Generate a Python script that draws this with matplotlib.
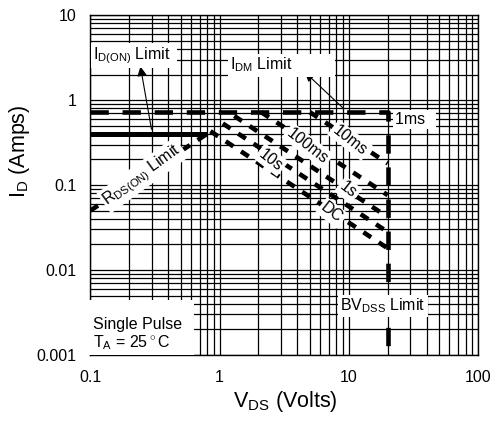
import matplotlib
matplotlib.use("Agg")
import matplotlib.pyplot as plt

plt.rcParams['font.family'] = ['Liberation Sans', 'DejaVu Sans']
plt.rcParams['mathtext.fontset'] = 'custom'
plt.rcParams['mathtext.rm'] = 'Liberation Sans'

# safe operating area data (Volts, Amps)
vds_1ms = [0.1, 20, 20]
id_1ms = [0.72, 0.72, 0.001]
vds_idon = [0.1, 0.8]
id_idon = [0.4, 0.4]
vds_rds = [0.1, 0.8]
id_rds = [0.05, 0.4]
vds_10ms = [5.0, 20]
id_10ms = [0.72, 0.18]
vds_100ms = [2.1, 20]
id_100ms = [0.72, 0.076]
vds_1s = [1.3, 20]
id_1s = [0.65, 0.042]
vds_10s = [1.06, 20]
id_10s = [0.53, 0.028]
vds_dc = [0.85, 20]
id_dc = [0.43, 0.018]

xticks = [0.1, 1, 10, 100]
xticklabels = ['0.1', '1', '10', '100']
yticks = [0.001, 0.01, 0.1, 1, 10]
yticklabels = ['0.001', '0.01', '0.1', '1', '10']

fig = plt.figure(figsize=(4.99, 4.21), dpi=100)
ax = fig.add_axes([0.181, 0.157, 0.777, 0.807])
ax.set_xscale('log')
ax.set_yscale('log')
ax.set_xlim(0.1, 100)
ax.set_ylim(0.001, 10)

ax.grid(True, which='both', color='black', linewidth=0.9)
ax.set_axisbelow(True)

# the thick dashed/solid limit lines
ax.plot(vds_1ms, id_1ms, color='black', lw=3.3, dashes=(4, 3), zorder=3)
ax.plot(vds_idon, id_idon, color='black', lw=3.6, solid_capstyle='butt', zorder=3)
ax.plot(vds_rds, id_rds, color='black', lw=3.3, dashes=(2, 2), zorder=3)
for v, i in [(vds_10ms, id_10ms), (vds_100ms, id_100ms), (vds_1s, id_1s),
             (vds_10s, id_10s), (vds_dc, id_dc)]:
    ax.plot(v, i, color='black', lw=3.3, dashes=(2, 2), zorder=3)

ax.set_xticks(xticks)
ax.set_xticklabels(xticklabels)
ax.set_yticks(yticks)
ax.set_yticklabels(yticklabels)
ax.tick_params(which='both', length=0, labelsize=11.5)
ax.tick_params(axis='x', pad=11)
ax.tick_params(axis='y', pad=10)
for s in ax.spines.values():
    s.set_linewidth(1.0)

ax.set_xlabel(r'V$_\mathregular{DS}$ (Volts)', fontsize=15.5)
ax.set_ylabel(r'I$_\mathregular{D}$ (Amps)', fontsize=15.5)
ax.xaxis.set_label_coords(0.502, -0.1)
ax.yaxis.set_label_coords(-0.15, 0.6)

wbox = dict(facecolor='white', edgecolor='none', pad=1.5)
tfs = 11.5

ax.text(0.006, 0.882, r'I$_\mathregular{D(ON)}$ Limit  ', transform=ax.transAxes,
        fontsize=tfs, ha='left', va='center', bbox=wbox, zorder=5)
ax.annotate('', xy=(0.128, 0.857), xytext=(0.159, 0.656), xycoords='axes fraction',
            arrowprops=dict(arrowstyle='-|>', color='black', lw=0.8, mutation_scale=14), zorder=4)

ax.text(0.36, 0.853, r'I$_\mathregular{DM}$ Limit          ', transform=ax.transAxes,
        fontsize=tfs, ha='left', va='center', bbox=wbox, zorder=5)
ax.annotate('', xy=(0.548, 0.838), xytext=(0.657, 0.721), xycoords='axes fraction',
            arrowprops=dict(arrowstyle='-|>', color='black', lw=0.8, mutation_scale=14), zorder=4)

ax.text(0.786, 0.694, '1ms  ', transform=ax.transAxes, fontsize=tfs,
        ha='left', va='center', bbox=wbox, zorder=5)

rot_labels = [('10ms', 0.670, 0.632), ('100ms', 0.561, 0.615), ('1s', 0.665, 0.485),
              ('10s', 0.466, 0.574), ('DC', 0.623, 0.418)]
for txt, fx, fy in rot_labels:
    ax.text(fx, fy, txt, transform=ax.transAxes, fontsize=tfs, rotation=-38,
            rotation_mode='anchor', ha='center', va='center', bbox=wbox, zorder=5)

ax.text(0.135, 0.529, r'R$_\mathregular{DS(ON)}$ Limit', transform=ax.transAxes,
        fontsize=tfs, rotation=36, rotation_mode='anchor', ha='center', va='center',
        bbox=wbox, zorder=5)

ax.text(0.755, 0.144, r'BV$_\mathregular{DSS}$ Limit', transform=ax.transAxes,
        fontsize=tfs, ha='center', va='center', bbox=wbox, zorder=5)

ax.text(0.006, 0.01, '\nSingle Pulse  \n' + r'T$_\mathregular{A}$ = 25$^\circ$C',
        transform=ax.transAxes, fontsize=tfs, ha='left', va='bottom',
        linespacing=1.05, bbox=dict(facecolor='white', edgecolor='none', pad=2.5), zorder=5)

fig.savefig('out.png', dpi=100)
